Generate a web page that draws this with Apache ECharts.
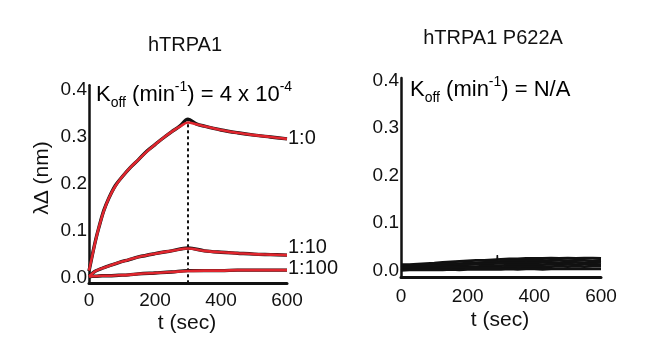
<!DOCTYPE html>
<html>
<head>
<meta charset="utf-8">
<script src="https://cdn.jsdelivr.net/npm/echarts@6/dist/echarts.min.js"></script>
<style>html,body{margin:0;padding:0;background:#fff}#c{width:650px;height:358px}</style>
</head>
<body>
<div id="c"></div>
<script>
// ---------- data ----------
const yTicks = [0, 0.1, 0.2, 0.3, 0.4];
const xTicks = [0, 200, 400, 600];
const curveLabels = ['1:0', '1:10', '1:100'];

// left panel (hTRPA1): time points and fitted curves (red) / raw data (black)
const tFit10 = [0, 5, 10, 20, 30, 45, 60, 80, 100, 125, 150, 175, 200, 225, 250, 275, 300, 325, 350, 400, 450, 500, 550, 600];
const fit1_0 = [0.016, 0.032, 0.048, 0.08, 0.108, 0.143, 0.17, 0.196, 0.215, 0.235, 0.252, 0.269, 0.284, 0.298, 0.311, 0.322, 0.331, 0.327, 0.323, 0.315, 0.309, 0.304, 0.3, 0.296];
const raw1_0 = [0.015, 0.032, 0.049, 0.081, 0.108, 0.144, 0.17, 0.197, 0.215, 0.235, 0.252, 0.27, 0.284, 0.298, 0.311, 0.323, 0.338, 0.328, 0.323, 0.315, 0.309, 0.304, 0.3, 0.296];

const tFitLow = [0, 10, 20, 40, 60, 90, 120, 150, 200, 250, 300, 350, 400, 450, 500, 550, 600];
const fit1_10 = [0.004, 0.01, 0.015, 0.021, 0.026, 0.033, 0.039, 0.045, 0.052, 0.058, 0.063, 0.058, 0.055, 0.053, 0.051, 0.05, 0.049];
const raw1_10 = [0.004, 0.01, 0.015, 0.021, 0.026, 0.033, 0.039, 0.045, 0.052, 0.058, 0.064, 0.058, 0.055, 0.053, 0.051, 0.05, 0.049];
const fit1_100 = [0.003, 0.004, 0.004, 0.005, 0.005, 0.006, 0.007, 0.009, 0.011, 0.013, 0.015, 0.016, 0.016, 0.017, 0.017, 0.017, 0.017];
const raw1_100 = [0.003, 0.004, 0.004, 0.005, 0.005, 0.006, 0.007, 0.009, 0.011, 0.013, 0.016, 0.016, 0.016, 0.017, 0.017, 0.017, 0.017];

const dashT = [300, 300];
const dashV = [-0.011, 0.343];

// right panel (hTRPA1 P622A): raw traces
const tR = [0, 25, 50, 75, 100, 125, 150, 175, 200, 225, 250, 275, 300, 325, 350, 375, 400, 425, 450, 475, 500, 525, 550, 575, 600];
const r1 = [0.012, 0.012, 0.013, 0.014, 0.015, 0.017, 0.018, 0.019, 0.020, 0.021, 0.021, 0.022, 0.023, 0.024, 0.024, 0.025, 0.025, 0.025, 0.026, 0.025, 0.026, 0.025, 0.026, 0.026, 0.025];
const r2 = [0.009, 0.009, 0.010, 0.011, 0.012, 0.013, 0.014, 0.014, 0.015, 0.016, 0.017, 0.018, 0.019, 0.019, 0.020, 0.020, 0.021, 0.020, 0.021, 0.021, 0.020, 0.021, 0.021, 0.020, 0.021];
const r3 = [0.006, 0.007, 0.007, 0.008, 0.009, 0.010, 0.010, 0.011, 0.012, 0.013, 0.013, 0.014, 0.015, 0.016, 0.016, 0.017, 0.016, 0.017, 0.017, 0.016, 0.017, 0.017, 0.016, 0.017, 0.017];
const r4 = [0.004, 0.004, 0.005, 0.005, 0.006, 0.006, 0.007, 0.007, 0.008, 0.008, 0.009, 0.009, 0.010, 0.011, 0.011, 0.012, 0.012, 0.012, 0.013, 0.012, 0.013, 0.012, 0.013, 0.013, 0.012];
const r5 = [0.002, 0.002, 0.003, 0.003, 0.003, 0.004, 0.004, 0.004, 0.005, 0.005, 0.005, 0.006, 0.006, 0.007, 0.007, 0.008, 0.008, 0.008, 0.008, 0.009, 0.008, 0.009, 0.008, 0.009, 0.009];
const r6 = [0.000, 0.001, 0.001, 0.001, 0.001, 0.001, 0.002, 0.001, 0.002, 0.002, 0.002, 0.002, 0.002, 0.003, 0.002, 0.003, 0.003, 0.002, 0.003, 0.003, 0.003, 0.003, 0.003, 0.003, 0.003];
const spikeT = [288, 289, 290];
const spikeV = [0.022, 0.032, 0.022];

// ---------- chart ----------
const FONT = '"Liberation Sans", Arial, sans-serif';
const INK = '#111';
const RED = '#e0262e';
const zip = (t, v) => t.map((x, i) => [x, v[i]]);

function xAx(grid, margin) {
  return {
    type: 'value', gridIndex: grid, min: 0, max: 600, interval: 200,
    axisLine: { show: true, onZero: false, lineStyle: { color: INK, width: 3 } },
    axisTick: { show: false }, splitLine: { show: false },
    axisLabel: { customValues: xTicks, margin: margin, fontSize: 19, fontFamily: FONT, color: INK }
  };
}
function yAx(grid, min, max) {
  return {
    type: 'value', gridIndex: grid, min: min, max: max,
    axisLine: { show: true, onZero: false, lineStyle: { color: INK, width: 2.5 } },
    axisTick: { show: false }, splitLine: { show: false },
    axisLabel: { customValues: yTicks, margin: 2, fontSize: 19, fontFamily: FONT, color: INK,
      formatter: v => v.toFixed(1) }
  };
}
function line(xi, data, color, width, extra) {
  return Object.assign({
    type: 'line', xAxisIndex: xi, yAxisIndex: xi, data: data, symbol: 'none',
    smooth: false, silent: true, animation: false,
    lineStyle: { color: color, width: width }
  }, extra || {});
}
function endLbl(text, offset) {
  return { smooth: 0.35, endLabel: { show: true, formatter: text, fontSize: 20, fontFamily: FONT, color: INK, distance: 1, offset: offset } };
}

const rightSeries = [r1, r2, r3, r4, r5, r6].map(v => line(1, zip(tR, v), INK, 2.8));
rightSeries.push(line(1, zip(spikeT, spikeV), INK, 1.5));

const kRich = {
  n: { fontSize: 22, fontFamily: FONT, color: INK, lineHeight: 30 },
  sub: { fontSize: 14, fontFamily: FONT, color: INK, verticalAlign: 'bottom', lineHeight: 14 },
  sup: { fontSize: 14, fontFamily: FONT, color: INK, verticalAlign: 'top', lineHeight: 14 }
};
function txt(x, y, text, size, extra) {
  return Object.assign({
    type: 'text', x: x, y: y, silent: true,
    style: { text: text, fontSize: size, fontFamily: FONT, fill: INK, align: 'center', verticalAlign: 'middle' }
  }, extra || {});
}

const option = {
  backgroundColor: '#fff',
  animation: false,
  grid: [
    { left: 89, top: 85.3, width: 198, height: 198 },
    { left: 401, top: 78, width: 200, height: 199.5 }
  ],
  xAxis: [xAx(0, 8), xAx(1, 10)],
  yAxis: [yAx(0, -0.011, 0.41), yAx(1, -0.015, 0.405)],
  series: [
    line(0, zip(dashT, dashV), INK, 2, { lineStyle: { color: INK, width: 2, type: [3, 3] } }),
    line(0, zip(tFit10, raw1_0), INK, 3.4, { smooth: 0.35 }),
    line(0, zip(tFitLow, raw1_10), INK, 3.4, { smooth: 0.35 }),
    line(0, zip(tFitLow, raw1_100), INK, 3.4, { smooth: 0.35 }),
    line(0, zip(tFit10, fit1_0), RED, 2.6, endLbl(curveLabels[0], [0, 0])),
    line(0, zip(tFitLow, fit1_10), RED, 2.6, endLbl(curveLabels[1], [0, -8])),
    line(0, zip(tFitLow, fit1_100), RED, 2.6, endLbl(curveLabels[2], [0, -2]))
  ].concat(rightSeries),
  graphic: [
    txt(185, 45, 'hTRPA1', 20),
    txt(493, 38, 'hTRPA1 P622A', 20),
    txt(187, 323, 't (sec)', 21),
    txt(500, 320, 't (sec)', 21),
    txt(42, 178, 'λΔ (nm)', 21, { rotation: Math.PI / 2 }),
    { type: 'text', x: 96, y: 95, silent: true,
      style: { text: '{n|K}{sub|off}{n| (min}{sup|-1}{n|) = 4 x 10}{sup|-4}', rich: kRich, align: 'left', verticalAlign: 'middle' } },
    { type: 'text', x: 410, y: 90, silent: true,
      style: { text: '{n|K}{sub|off}{n| (min}{sup|-1}{n|) = N/A}', rich: kRich, align: 'left', verticalAlign: 'middle' } }
  ]
};

const chart = echarts.init(document.getElementById('c'), null, { renderer: 'canvas' });
chart.setOption(option);
</script>
</body>
</html>
